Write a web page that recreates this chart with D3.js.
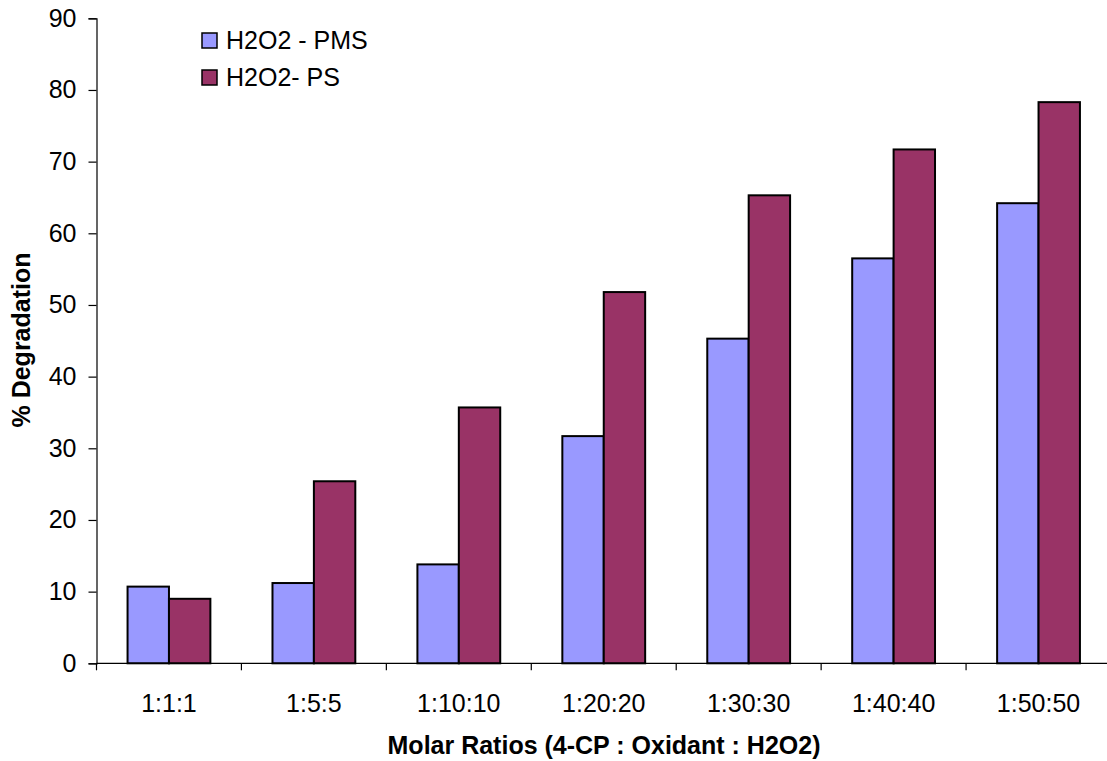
<!DOCTYPE html>
<html>
<head>
<meta charset="utf-8">
<script src="https://cdn.jsdelivr.net/npm/d3@7"></script>
<style>
  html, body { margin: 0; padding: 0; background: #fff; }
  svg text { font-family: "Liberation Sans", Arial, sans-serif; fill: #000; }
</style>
</head>
<body>
<svg id="chart" width="1107" height="761"></svg>
<script>
// Molar ratios tested and % degradation of 4-CP for each oxidant pair
const categories = ["1:1:1", "1:5:5", "1:10:10", "1:20:20", "1:30:30", "1:40:40", "1:50:50"];
const seriesNames = ["H2O2 - PMS", "H2O2- PS"];
const pmsValues = [10.7, 11.2, 13.8, 31.7, 45.3, 56.5, 64.2];
const psValues  = [9.0, 25.4, 35.7, 51.8, 65.3, 71.7, 78.3];
const yTicks = [0, 10, 20, 30, 40, 50, 60, 70, 80, 90];
const colors = ["#9999ff", "#993366"];

const svg = d3.select("#chart");
const plotLeft = 96.5, plotRight = 1111, plotTop = 18.3, plotBottom = 663.3;
const fontSize = 25;

const x = d3.scaleBand().domain(categories).range([plotLeft, plotRight]).padding(0);
const y = d3.scaleLinear().domain([0, 90]).range([plotBottom, plotTop]);
const inner = d3.scaleBand().domain(seriesNames)
  .range([0, x.bandwidth()]).paddingInner(0).paddingOuter(0.75);

// bars
const series = [pmsValues, psValues];
series.forEach((vals, si) => {
  svg.append("g").selectAll("rect")
    .data(categories.map((c, i) => ({ c, v: vals[i] })))
    .join("rect")
    .attr("x", d => x(d.c) + inner(seriesNames[si]))
    .attr("y", d => y(d.v))
    .attr("width", inner.bandwidth())
    .attr("height", d => y(0) - y(d.v))
    .attr("fill", colors[si])
    .attr("stroke", "#000")
    .attr("stroke-width", 2);
});

// y axis
const yAxis = svg.append("g")
  .attr("transform", `translate(${plotLeft},0)`)
  .call(d3.axisLeft(y).tickValues(yTicks).tickSize(8).tickPadding(12));
yAxis.select(".domain").attr("stroke", "#000").attr("stroke-width", 1.2);
yAxis.selectAll(".tick line").attr("stroke", "#000").attr("stroke-width", 1.2);
yAxis.selectAll(".tick text").attr("font-size", fontSize).attr("font-family", "Liberation Sans, Arial, sans-serif");

// x axis: ticks at category boundaries
const xAxis = svg.append("g").attr("transform", `translate(0,${plotBottom})`);
xAxis.append("line").attr("x1", plotLeft).attr("x2", plotRight).attr("stroke", "#000").attr("stroke-width", 1.2);
xAxis.selectAll("line.tk")
  .data(categories.concat(["end"]))
  .join("line").attr("class", "tk")
  .attr("x1", (d, i) => i < categories.length ? x(d) : x(categories[i - 1]) + x.bandwidth())
  .attr("x2", (d, i) => i < categories.length ? x(d) : x(categories[i - 1]) + x.bandwidth())
  .attr("y1", 0).attr("y2", 7)
  .attr("stroke", "#000").attr("stroke-width", 1.2);
xAxis.selectAll("text")
  .data(categories)
  .join("text")
  .attr("x", d => x(d) + x.bandwidth() / 2)
  .attr("y", 49)
  .attr("text-anchor", "middle")
  .attr("font-size", fontSize)
  .text(d => d);

// axis titles
svg.append("text")
  .attr("x", 604).attr("y", 754)
  .attr("text-anchor", "middle")
  .attr("font-size", fontSize).attr("font-weight", "bold")
  .text("Molar Ratios (4-CP : Oxidant : H2O2)");
svg.append("text")
  .attr("transform", `translate(30,340) rotate(-90)`)
  .attr("text-anchor", "middle")
  .attr("font-size", fontSize).attr("font-weight", "bold")
  .text("% Degradation");

// legend
const legend = svg.append("g").attr("transform", "translate(202,33)");
seriesNames.forEach((name, i) => {
  const g = legend.append("g").attr("transform", `translate(0,${i * 37})`);
  g.append("rect").attr("x", 0).attr("y", 0).attr("width", 15).attr("height", 15)
    .attr("fill", colors[i]).attr("stroke", "#000").attr("stroke-width", 1.5);
  g.append("text").attr("x", 24).attr("y", 16).attr("font-size", fontSize).text(name);
});
</script>
</body>
</html>
